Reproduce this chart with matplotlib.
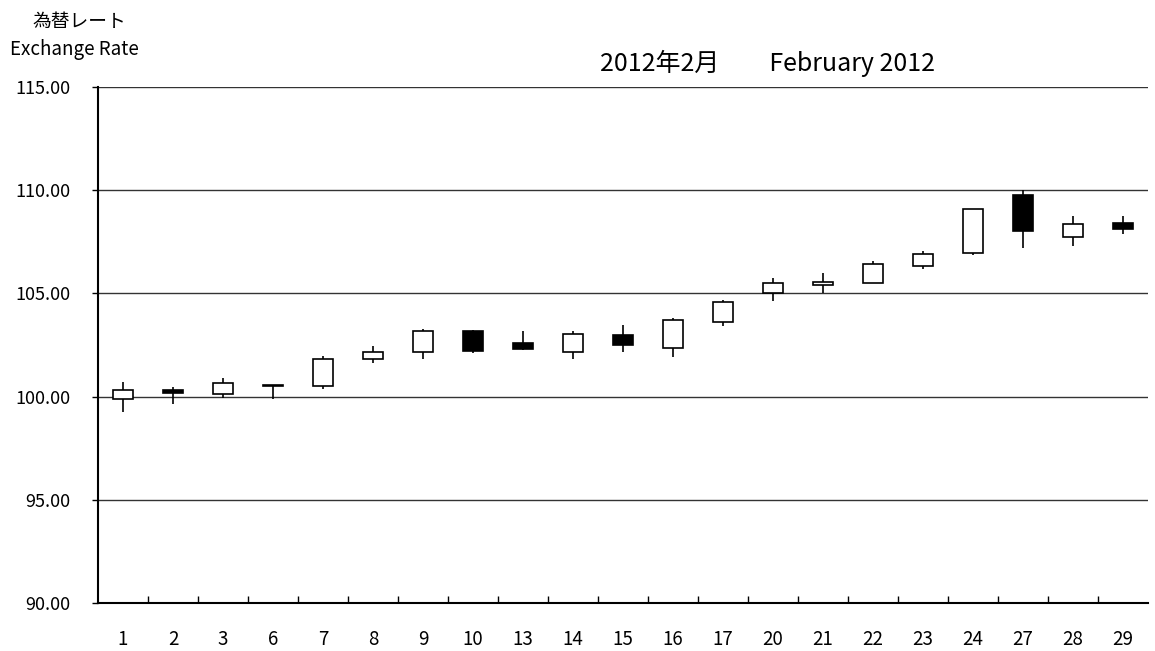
import matplotlib
matplotlib.use("Agg")
import matplotlib.pyplot as plt
import numpy as np

plt.rcParams['font.family'] = ['Noto Sans CJK JP', 'DejaVu Sans']

dates = ["1", "2", "3", "6", "7", "8", "9", "10", "13", "14", "15",
         "16", "17", "20", "21", "22", "23", "24", "27", "28", "29"]
opens = [99.87, 100.33, 100.13, 100.55, 100.50, 101.82, 102.15, 103.20, 102.58, 102.18, 102.98,
         102.37, 103.60, 105.02, 105.43, 105.49, 106.31, 106.94, 109.75, 107.73, 108.40]
closes = [100.32, 100.17, 100.66, 100.50, 101.81, 102.15, 103.19, 102.21, 102.31, 103.02, 102.49,
          103.70, 104.58, 105.50, 105.55, 106.41, 106.92, 109.07, 108.01, 108.35, 108.12]
highs = [100.69, 100.45, 100.89, 100.55, 101.99, 102.45, 103.28, 103.21, 103.18, 103.18, 103.47,
         103.81, 104.67, 105.76, 106.00, 106.59, 107.04, 109.07, 109.99, 108.74, 108.74]
lows = [99.24, 99.63, 99.92, 99.87, 100.37, 101.64, 101.84, 102.13, 102.26, 101.82, 102.18,
        101.91, 103.44, 104.65, 105.00, 105.49, 106.17, 106.85, 107.20, 107.28, 107.88]
yticks = [90, 95, 100, 105, 110, 115]

fig = plt.figure(figsize=(11.55, 6.51), dpi=100)
ax = fig.add_axes([98/1155, 1-603/651, (1148-98)/1155, (603-87)/651])

x = np.arange(len(dates))
o = np.array(opens); c = np.array(closes)
bottoms = np.minimum(o, c)
heights = np.abs(c - o)
colors = ['white' if cc >= oo else 'black' for oo, cc in zip(o, c)]

ax.vlines(x, lows, highs, color='black', lw=1.2, zorder=3)
ax.bar(x, heights, width=0.4, bottom=bottoms, color=colors, edgecolor='black',
       linewidth=1.2, zorder=4)

ax.set_ylim(90, 115)
ax.set_xlim(-0.5, len(dates) - 0.5)
ax.set_yticks(yticks)
ax.set_yticklabels([f"{v:.2f}" for v in yticks], fontsize=13)
ax.set_xticks(x)
ax.set_xticklabels(dates, fontsize=13.5)
ax.set_xticks(np.arange(0.5, len(dates) - 0.5, 1), minor=True)
ax.tick_params(axis='x', which='major', length=0, pad=19)
ax.tick_params(axis='x', which='minor', length=5, direction='in', width=1)
ax.tick_params(axis='y', length=4, direction='out', pad=16, width=1)

for v in yticks[1:]:
    ax.axhline(v, color='#333333', lw=1.0, zorder=1)

for s in ['top', 'right']:
    ax.spines[s].set_visible(False)
ax.spines['left'].set_linewidth(1.5)
ax.spines['bottom'].set_linewidth(1.5)

fig.text(32/1155, 1-21/651, "為替レート", fontsize=13.5, va='center', ha='left')
fig.text(10/1155, 1-49/651, "Exchange Rate", fontsize=13.5, va='center', ha='left')
fig.text(768/1155, 1-63/651, "2012年2月　　February 2012", fontsize=18, va='center', ha='center')

fig.savefig("out.png", dpi=100)
